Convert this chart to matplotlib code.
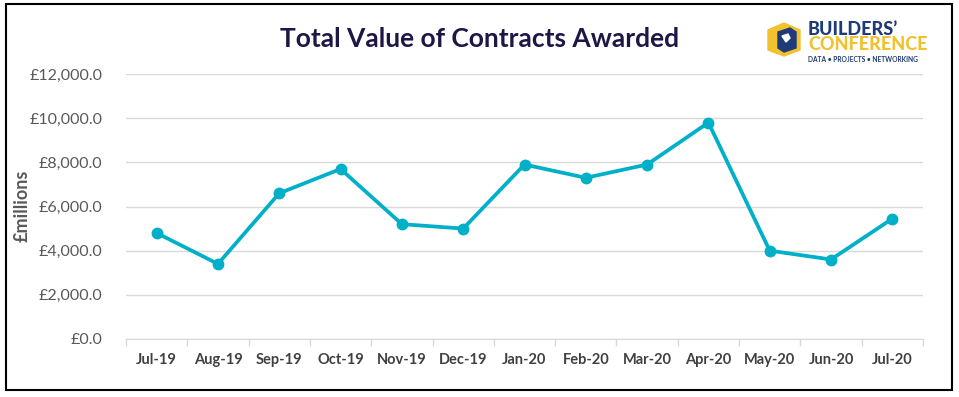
import matplotlib
matplotlib.use("Agg")
import matplotlib.pyplot as plt
from matplotlib.patches import Rectangle, Polygon
import numpy as np

months = ["Jul-19", "Aug-19", "Sep-19", "Oct-19", "Nov-19", "Dec-19", "Jan-20",
          "Feb-20", "Mar-20", "Apr-20", "May-20", "Jun-20", "Jul-20"]
values = [4800, 3400, 6600, 7700, 5200, 5000, 7900, 7300, 7900, 9800, 4000, 3600, 5450]
yticks = [0, 2000, 4000, 6000, 8000, 10000, 12000]

LINE = "#00AFC8"
GREY = "#595959"
NAVY = "#1E3A78"
GOLD = "#F2C12E"

plt.rcParams["font.family"] = ["Lato", "DejaVu Sans"]

fig = plt.figure(figsize=(9.59, 3.97), dpi=100)
ax = fig.add_axes([126 / 959, 1 - 339 / 397, (923 - 126) / 959, (339 - 74) / 397])

x = np.arange(len(months))
ax.plot(x, values, color=LINE, lw=2.7, marker="o", ms=7.5, zorder=3)

ax.set_xlim(-0.5, len(months) - 0.5)
ax.set_ylim(0, 12000)
ax.set_yticks(yticks)
ax.set_yticklabels([f"£{v:,.1f}" for v in yticks], color=GREY, fontsize=11.5)
ax.yaxis.grid(True, color="#D9D9D9", lw=1)
ax.set_axisbelow(True)
ax.tick_params(axis="y", length=0, pad=17)

ax.set_xticks(x)
ax.set_xticklabels(months, color="#404040", fontsize=10.5, fontweight="bold")
ax.set_xticks(np.arange(len(months) + 1) - 0.5, minor=True)
ax.tick_params(axis="x", which="major", length=0, pad=10)
ax.tick_params(axis="x", which="minor", length=5, color="#D9D9D9", width=1)

for s in ["top", "right", "left"]:
    ax.spines[s].set_visible(False)
ax.spines["bottom"].set_color("#D9D9D9")

fig.text(22 / 959, 1 - 206 / 397, "£millions", rotation=90, ha="center", va="center",
         color=GREY, fontsize=13, fontweight="bold")
fig.text(480 / 959, 1 - 39 / 397, "Total Value of Contracts Awarded", ha="center",
         va="center", color="#1F1646", fontsize=19, fontweight="bold")

# logo
lx = fig.add_axes([760 / 959, 1 - 68 / 397, 190 / 959, 50 / 397])
lx.set_xlim(0, 190)
lx.set_ylim(50, 0)
lx.axis("off")
lx.add_patch(Polygon([(8, 12), (24, 5), (40, 12), (40, 32), (24, 38), (8, 32)],
                     closed=True, color=GOLD))
lx.add_patch(Polygon([(18, 14), (30, 10), (36, 14), (36, 30), (24, 34), (18, 30)],
                     closed=True, color=NAVY))
lx.add_patch(Polygon([(22, 18), (28, 16), (30, 20), (26, 24)], closed=True, color="white"))
lx.text(48, 11, "BUILDERS’", color=NAVY, fontsize=13, fontweight="black", va="center")
lx.text(48, 27, "CONFERENCE", color=GOLD, fontsize=13, fontweight="black", va="center")
lx.text(48, 42, "DATA • PROJECTS • NETWORKING", color=NAVY, fontsize=4.8,
        fontweight="bold", va="center")

fig.patches.append(Rectangle((6 / 959, 1 - 390 / 397), 946 / 959, 386 / 397,
                             transform=fig.transFigure, fill=False, ec="black", lw=1.5))

fig.savefig("out.png", dpi=100)
